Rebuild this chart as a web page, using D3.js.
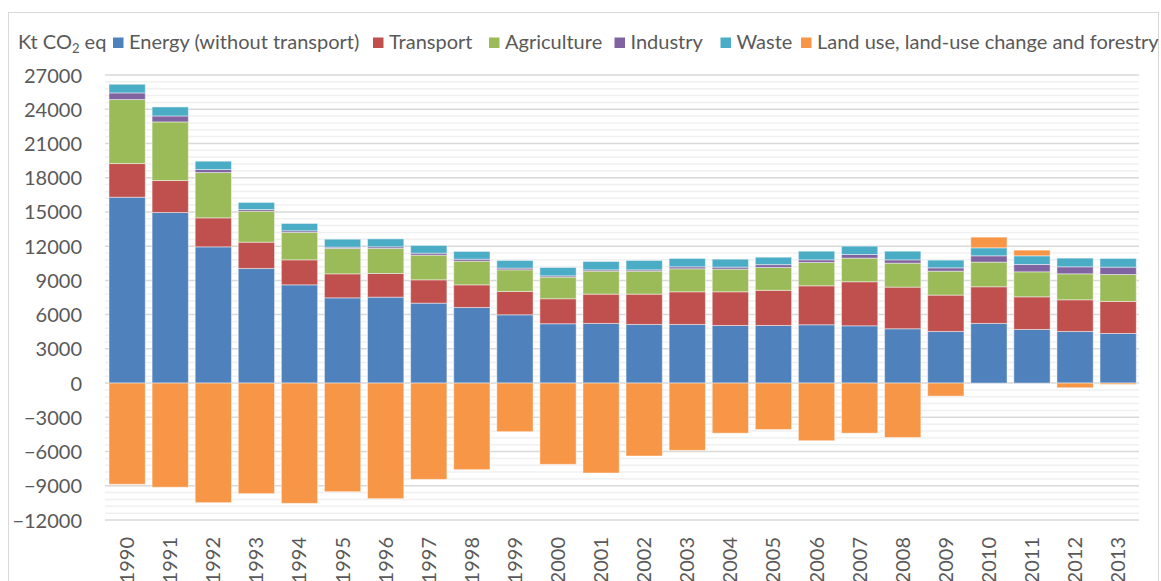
<!DOCTYPE html>
<html>
<head>
<meta charset="utf-8">
<script src="https://cdn.jsdelivr.net/npm/d3@7"></script>
<style>
html,body{margin:0;padding:0;background:#fff;}
svg{display:block;}
text{font-family:Lato,"Open Sans",sans-serif;fill:#595959;}
</style>
</head>
<body>
<svg id="chart" width="1161" height="581"></svg>
<script>
const years = ["1990","1991","1992","1993","1994","1995","1996","1997","1998","1999","2000","2001","2002","2003","2004","2005","2006","2007","2008","2009","2010","2011","2012","2013"];
const energy    = [16290,14950,11940,10045,8610,7470,7530,7005,6625,5985,5200,5230,5140,5140,5050,5050,5110,5020,4760,4525,5230,4700,4525,4350];
const transport = [2950,2800,2540,2305,2190,2105,2075,2045,1985,2045,2190,2565,2655,2860,2950,3080,3415,3860,3650,3185,3210,2860,2775,2805];
const agriculture = [5610,5140,3970,2715,2400,2220,2190,2160,2075,1895,1895,2015,2015,2015,1985,2000,2045,2070,2100,2100,2160,2190,2275,2360];
const industry  = [580,520,265,145,145,115,145,175,175,150,115,115,115,175,175,250,230,320,290,290,555,645,615,645];
const waste     = [760,790,730,620,645,700,700,675,675,670,730,730,820,730,700,650,760,730,760,675,700,760,760,760];
const lulucf    = [-8870,-9130,-10480,-9690,-10540,-9520,-10130,-8440,-7590,-4260,-7120,-7880,-6390,-5900,-4390,-4070,-5050,-4390,-4770,-1140,935,495,-410,-115];
const seriesNames = ["Energy (without transport)","Transport","Agriculture","Industry","Waste","Land use, land-use change and forestry"];
const seriesKeys = ["energy","transport","agriculture","industry","waste","lulucf"];
const colors = ["#4F81BD","#C0504D","#9BBB59","#8064A2","#4BACC6","#F79646"];
const yTicks = [-12000,-9000,-6000,-3000,0,3000,6000,9000,12000,15000,18000,21000,24000,27000];
const unitLabel = "Kt CO";

const seriesArrays = [energy,transport,agriculture,industry,waste,lulucf];
const rows = years.map((y,i)=>{
  const r = {year:y};
  seriesKeys.forEach((k,j)=>r[k]=seriesArrays[j][i]);
  return r;
});

const svg = d3.select("#chart");

// chart border
svg.append("rect").attr("x",8.5).attr("y",12.5).attr("width",1150).attr("height",600)
  .attr("fill","none").attr("stroke","#d9d9d9").attr("stroke-width",1);

const x = d3.scaleBand().domain(years).range([105.6,1139.7]).paddingInner(0.158).paddingOuter(0.079);
const y = d3.scaleLinear().domain([-12000,27000]).range([520,75]);

// minor grid
svg.append("g").selectAll("line").data(d3.range(-12000,27001,600).filter(v=>v%3000!==0))
  .join("line").attr("x1",105).attr("x2",1139).attr("y1",d=>y(d)).attr("y2",d=>y(d))
  .attr("stroke","#f0f0f0").attr("stroke-width",1.5);
// major grid
svg.append("g").selectAll("line").data(yTicks)
  .join("line").attr("x1",105).attr("x2",1139).attr("y1",d=>y(d)).attr("y2",d=>y(d))
  .attr("stroke","#d9d9d9").attr("stroke-width",1.5);

// bars
const stack = d3.stack().keys(seriesKeys).offset(d3.stackOffsetDiverging);
const stacked = stack(rows);
svg.append("g").selectAll("g").data(stacked).join("g")
  .attr("fill",(d,i)=>colors[i])
  .selectAll("rect").data(d=>d).join("rect")
  .attr("x",d=>x(d.data.year))
  .attr("width",x.bandwidth())
  .attr("y",d=>y(Math.max(d[0],d[1])))
  .attr("height",d=>Math.abs(y(d[0])-y(d[1])))
  .attr("stroke","rgba(255,255,255,0.45)").attr("stroke-width",1);

// y axis labels
const yAxis = d3.axisLeft(y).tickValues(yTicks).tickSize(0).tickPadding(0).tickFormat(d3.format("d"));
const ga = svg.append("g").attr("transform","translate(82,0)").call(yAxis);
ga.select(".domain").remove();
ga.selectAll("text").style("font-family","Lato,'Open Sans',sans-serif").style("font-size","20px").attr("fill","#595959").attr("dy","0.35em");

// x axis labels
const xAxis = d3.axisBottom(x).tickSize(0).tickPadding(0);
const gx = svg.append("g").attr("transform","translate(0,537)").call(xAxis);
gx.select(".domain").remove();
gx.selectAll("text").style("font-family","Lato,'Open Sans',sans-serif").style("font-size","20px").attr("fill","#595959")
  .attr("transform","rotate(-90)").attr("text-anchor","end").attr("x",0).attr("y",0).attr("dy","0.35em");

// legend
const lg = svg.append("g");
const unit = lg.append("text").attr("x",18).attr("y",49).style("font-size","20px");
unit.append("tspan").text(unitLabel);
unit.append("tspan").text("2").style("font-size","13px").attr("dy",4);
unit.append("tspan").text(" eq").attr("dy",-4);
const legendX = [113,373,489,614.5,720.5,801];
const legendTextW = [230,84,96,71,53,339];
seriesNames.forEach((n,i)=>{
  lg.append("rect").attr("x",legendX[i]).attr("y",37.5).attr("width",10.5).attr("height",10.5).attr("fill",colors[i]);
  const t = lg.append("text").attr("x",legendX[i]+16).attr("y",49).style("font-size","20px").text(n);
  const w = t.node().getComputedTextLength();
  if (Math.abs(w-legendTextW[i])>3) t.attr("textLength",legendTextW[i]).attr("lengthAdjust","spacingAndGlyphs");
});
</script>
</body>
</html>
